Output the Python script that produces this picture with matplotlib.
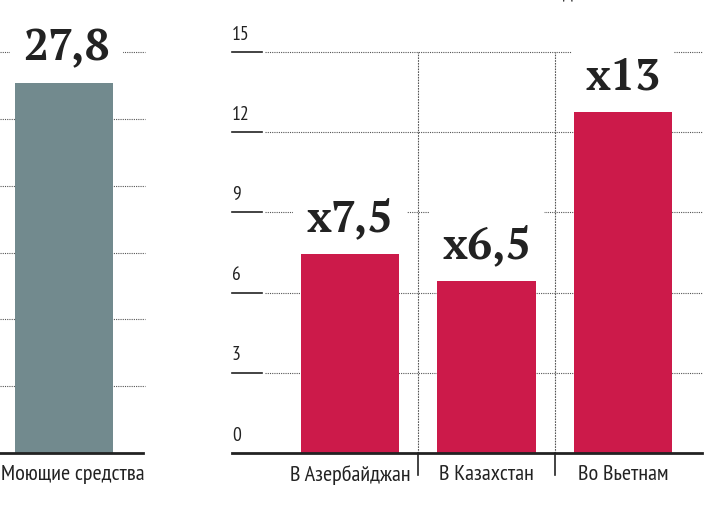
import matplotlib.pyplot as plt
from matplotlib import font_manager as fm
from matplotlib.ft2font import FT2Font

# left panel (cut off at the picture's left edge)
left_cats = ["Моющие средства"]
left_vals = [27.8]
left_ticks = [0, 5, 10, 15, 20, 25, 30]

# right panel
cats = ["В Азербайджан", "В Казахстан", "Во Вьетнам"]
vals = [7.5, 6.5, 12.8]
val_labels = ["x7,5", "x6,5", "x13"]
yticks = [0, 3, 6, 9, 12, 15]

GREY = "#728a8e"
RED = "#cc1a4a"
INK = "#222222"
GRID = "#555555"


def pick(cands, fallback, sample="МЖдщ"):
    # first installed family that has the needed glyphs
    for name in cands:
        for f in fm.fontManager.ttflist:
            if f.name != name:
                continue
            try:
                cmap = FT2Font(f.fname).get_charmap()
            except Exception:
                continue
            if all(ord(c) in cmap for c in sample):
                return name
    return fallback


sans = pick(["PT Sans Narrow", "Fira Sans Extra Condensed", "Roboto Condensed"],
            "DejaVu Sans")
serif = pick(["PT Serif", "Noto Serif", "Merriweather", "Source Serif Pro",
              "Source Serif 4", "Lora"], "Liberation Serif", sample="x0123456789,")
SANS = [sans, "DejaVu Sans"]
SERIF = [serif, "DejaVu Serif"]

W, H = 706, 526
fig = plt.figure(figsize=(W / 100, H / 100), dpi=100)


def px_axes(x0, x1, y_top, y_bot):
    return fig.add_axes([x0 / W, (H - y_bot) / H, (x1 - x0) / W, (y_bot - y_top) / H])


def clean(ax):
    for s in ax.spines.values():
        s.set_visible(False)
    ax.tick_params(length=0)
    ax.set_yticks([])


# ---- left panel
axl = px_axes(0, 145, 52, 453)
clean(axl)
axl.set_xlim(-0.457, 0.579)
axl.set_ylim(0, 30)
for t in left_ticks[1:]:
    axl.axhline(t, color=GRID, lw=0.8, ls=(0, (1, 1)), zorder=1, clip_on=False)
axl.bar([0], left_vals, width=0.7, color=GREY, zorder=2)
axl.axhline(0, xmax=143 / 145, color=INK, lw=2, zorder=4, clip_on=False)
axl.set_xticks([])
for i, v in enumerate(left_vals):
    axl.annotate(f"{v:.1f}".replace(".", ","), (i, v), xytext=(2, 15),
                 textcoords="offset points", ha="center", va="baseline",
                 fontsize=32, fontweight="bold", family=SERIF, color=INK, zorder=5,
                 bbox=dict(boxstyle="square,pad=0.3", fc="white", ec="none"),
                 annotation_clip=False)
axl.text(0.995, -0.03, left_cats[0], transform=axl.transAxes, ha="right", va="top",
         fontsize=16, family=SANS, color=INK)

# ---- right panel
ax = px_axes(232, 702, 52, 453)
clean(ax)
ax.set_xlim(-0.864, 2.579)
ax.set_ylim(0, 15)
for t in yticks:
    if t > 0:
        ax.axhline(t, xmin=0.070, xmax=1, color=GRID, lw=0.8, ls=(0, (1, 1)), zorder=1,
                   clip_on=False)
        ax.axhline(t, xmin=0, xmax=0.064, color=INK, lw=1.2, zorder=1, clip_on=False)
    ax.annotate(str(t), (0, t), xycoords=("axes fraction", "data"), xytext=(0, 6),
                textcoords="offset points", ha="left", va="bottom",
                fontsize=14, family=SANS, color=INK)

# separators between categories
for x in [0.5, 1.5]:
    ax.vlines(x, 0, 15, color=GRID, lw=0.8, ls=(0, (1.5, 1)), zorder=1)
    ax.plot([x, x], [0, -22 / 401 * 15], color=INK, lw=1.2, clip_on=False, zorder=4)

xs = list(range(len(cats)))
ax.bar(xs, vals, width=0.72, color=RED, zorder=2)
ax.axhline(0, color=INK, lw=2, zorder=4, clip_on=False)

for x, v, lab in zip(xs, vals, val_labels):
    ax.annotate(lab, (x, v), xytext=(0, 15), textcoords="offset points",
                ha="center", va="baseline", fontsize=32, fontweight="bold",
                family=SERIF, color=INK, zorder=5,
                bbox=dict(boxstyle="square,pad=0.3", fc="white", ec="none"),
                annotation_clip=False)

ax.set_xticks(xs)
ax.set_xticklabels(cats, fontsize=16, family=SANS, color=INK)
ax.tick_params(axis="x", pad=9)

# clipped heading above the chart
fig.text(568 / W, 1.004, "д", ha="center", va="baseline", fontsize=16,
         family=SANS, color=INK)

fig.savefig("out.png", dpi=100)
